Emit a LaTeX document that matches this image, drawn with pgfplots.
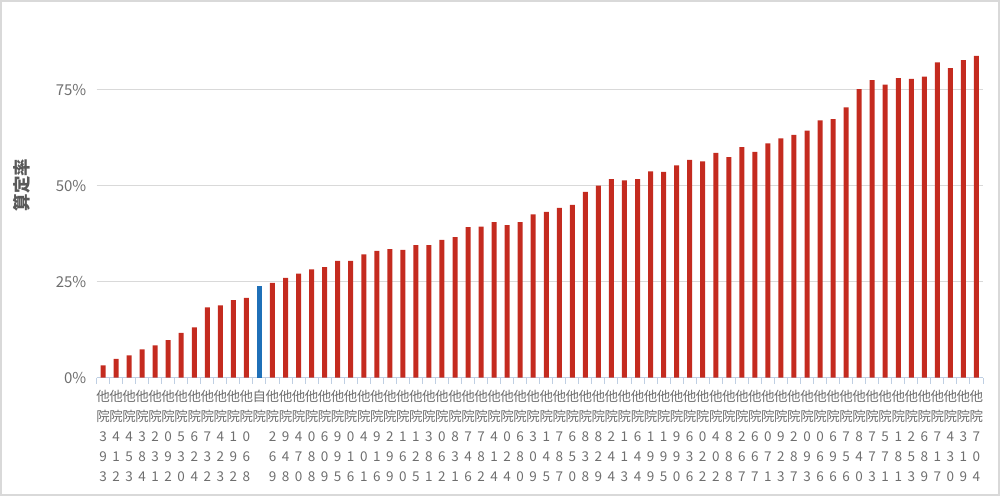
\documentclass[border=0pt]{standalone}
\usepackage{fontspec}
\setmainfont{Noto Sans CJK JP}
\usepackage{pgfplots}
\pgfplotsset{compat=1.18}
\definecolor{barred}{HTML}{C42B1F}
\definecolor{barblue}{HTML}{1F70B8}
\definecolor{gridgray}{HTML}{D9D9D9}
\definecolor{axisblue}{HTML}{BFCFE3}
\definecolor{txtgray}{HTML}{6E6E6E}
\definecolor{lblgray}{HTML}{595959}
% stacked tick label: 他 / 院 / three digits
\newcommand{\lb}[3]{他\\院\\#1\\#2\\#3}
\begin{document}
\begin{tikzpicture}[x=1pt,y=1pt]
\useasboundingbox (0,0) rectangle (1000,496);
\draw[gridgray, line width=1.5pt] (1,1) rectangle (999,495);
\begin{axis}[
    at={(96.5pt,118.3pt)}, anchor=south west,
    scale only axis, width=886.5pt, height=345.7pt,
    ymin=0, ymax=90, xmin=-0.5, xmax=67.5,
    axis x line*=bottom, axis y line*=left,
    y axis line style={draw=none},
    x axis line style={draw=axisblue, line width=1.2pt},
    ytick={0,25,50,75},
    ymajorgrids, grid style={gridgray, line width=1.5pt},
    major tick length=0pt,
    tick align=outside,
    xtick={0,...,67},
    minor xtick={-0.5,0.5,...,67.5},
    minor tick length=6pt,
    minor tick style={draw=axisblue, line width=1pt},
    xticklabels={\lb393,\lb412,\lb453,\lb384,\lb231,\lb092,\lb530,\lb624,\lb732,\lb423,\lb192,\lb068,
        {自\\院\\ \\ \\ },
        \lb269,\lb948,\lb470,\lb088,\lb609,\lb995,\lb016,\lb401,\lb916,\lb299,\lb160,\lb125,\lb381,\lb062,\lb831,\lb746,\lb782,\lb414,\lb024,\lb680,\lb309,
        \lb145,\lb787,\lb650,\lb838,\lb829,\lb244,\lb113,\lb644,\lb199,\lb195,\lb990,\lb636,\lb022,\lb402,\lb888,\lb267,\lb667,
        \lb071,\lb923,\lb287,\lb093,\lb066,\lb696,\lb756,\lb840,\lb773,\lb571,\lb181,\lb253,\lb689,\lb717,\lb430,\lb319,\lb704},
    xticklabel style={font=\fontsize{13.5}{20}\selectfont, text=txtgray, align=center, inner sep=0pt, anchor=north, yshift=-12pt},
    yticklabel style={font=\fontsize{15}{18}\selectfont, text=txtgray, inner sep=0pt, xshift=-10pt},
    /pgf/number format/assume math mode=true,
    yticklabel={\pgfmathprintnumber{\tick}\%},
    ylabel={\bfseries 算定率},
    ylabel style={font=\fontsize{17.5}{20}\selectfont, text=lblgray, at={(axis description cs:-0.084,0.557)}, anchor=center},
    ybar, bar width=5pt, bar shift=0pt,
]
\addplot[fill=barred, draw=none] coordinates {
(0,3.2) (1,4.9) (2,5.8) (3,7.4) (4,8.4) (5,9.8) (6,11.7) (7,13.1) (8,18.3) (9,18.8) (10,20.2) (11,20.8)
(13,24.7) (14,26.0) (15,27.1) (16,28.2) (17,28.8) (18,30.4) (19,30.4) (20,32.1) (21,33.0) (22,33.5) (23,33.3)
(24,34.5) (25,34.5) (26,35.9) (27,36.6) (28,39.2) (29,39.3) (30,40.5) (31,39.7) (32,40.5) (33,42.5)
(34,43.2) (35,44.2) (36,45.0) (37,48.4) (38,50.0) (39,51.7) (40,51.4) (41,51.7) (42,53.7) (43,53.6)
(44,55.3) (45,56.7) (46,56.3) (47,58.5) (48,57.4) (49,60.0) (50,58.8) (51,61.0) (52,62.3) (53,63.2)
(54,64.3) (55,67.0) (56,67.3) (57,70.4) (58,75.1) (59,77.5) (60,76.3) (61,78.0) (62,77.8) (63,78.4)
(64,82.1) (65,80.6) (66,82.7) (67,83.8)
};
\addplot[fill=barblue, draw=none] coordinates {(12,23.9)};
\end{axis}
\end{tikzpicture}
\end{document}
